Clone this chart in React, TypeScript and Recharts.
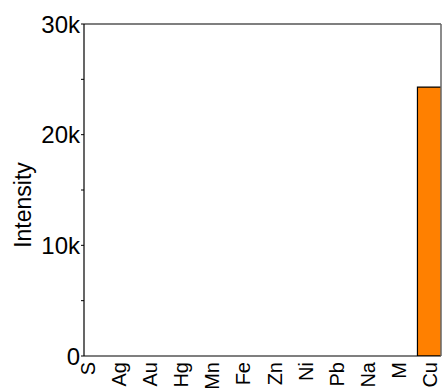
import React from 'react';
import { BarChart, Bar, XAxis, YAxis } from 'recharts';

const elements = ['S', 'Ag', 'Au', 'Hg', 'Mn', 'Fe', 'Zn', 'Ni', 'Pb', 'Na', 'M', 'Cu'];
const intensities = [0, 0, 0, 0, 0, 0, 0, 0, 0, 0, 0, 24300];
const yTicks = [0, 5000, 10000, 15000, 20000, 25000, 30000];
const yLabels: Record<number, string> = { 0: '0', 10000: '10k', 20000: '20k', 30000: '30k' };

const data = elements.map((name, i) => ({ idx: i, name, value: intensities[i] }));

const font = 'Liberation Sans, Arial, sans-serif';

const XTick = (props: any) => {
  const { x, y, payload } = props;
  return (
    <text
      x={x}
      y={y}
      transform={`rotate(-90 ${x} ${y})`}
      textAnchor="end"
      dominantBaseline="central"
      fontFamily={font}
      fontSize={20}
      fill="#000"
    >
      {elements[payload.value] ?? ''}
    </text>
  );
};

const YLabel = (props: any) => {
  const vb = props.viewBox || { y: 24, height: 332 };
  const cx = 23;
  const cy = vb.y + vb.height / 2 + 15;
  return (
    <text
      x={cx}
      y={cy}
      transform={`rotate(-90 ${cx} ${cy})`}
      textAnchor="middle"
      dominantBaseline="central"
      fontFamily={font}
      fontSize={23}
      fill="#000"
    >
      Intensity
    </text>
  );
};

export default function App() {
  return (
    <div style={{ position: 'absolute', left: 0, top: 0, background: '#fff' }}>
      <BarChart
        width={445}
        height={392}
        data={data}
        margin={{ top: 23, right: 3, bottom: 0, left: 0 }}
      >
        <XAxis
          dataKey="idx"
          type="number"
          domain={[-0.13, 11.354]}
          ticks={elements.map((_, i) => i)}
          allowDataOverflow
          height={36}
          tick={<XTick />}
          tickLine={false}
          tickSize={4}
          axisLine={{ stroke: '#000', strokeWidth: 1.2 }}
        />
        <XAxis
          xAxisId="top"
          orientation="top"
          dataKey="idx"
          type="number"
          domain={[-0.13, 11.354]}
          height={1}
          tick={false}
          tickLine={false}
          axisLine={{ stroke: '#000', strokeWidth: 1.2 }}
        />
        <YAxis
          domain={[0, 30000]}
          ticks={yTicks}
          allowDataOverflow
          width={84}
          tickSize={3}
          tickMargin={1}
          tickFormatter={(v: number) => yLabels[v] ?? ''}
          tick={{ fontFamily: font, fontSize: 24, fill: '#000' }}
          tickLine={{ stroke: '#000' }}
          axisLine={{ stroke: '#000', strokeWidth: 1.2 }}
          label={<YLabel />}
        />
        <YAxis
          yAxisId="right"
          orientation="right"
          domain={[0, 30000]}
          width={1}
          tick={false}
          tickLine={false}
          axisLine={{ stroke: '#666', strokeWidth: 1.5 }}
        />
        <Bar
          dataKey="value"
          barSize={26}
          fill="#ff8000"
          stroke="#000"
          strokeWidth={1.2}
          isAnimationActive={false}
        />
      </BarChart>
    </div>
  );
}
